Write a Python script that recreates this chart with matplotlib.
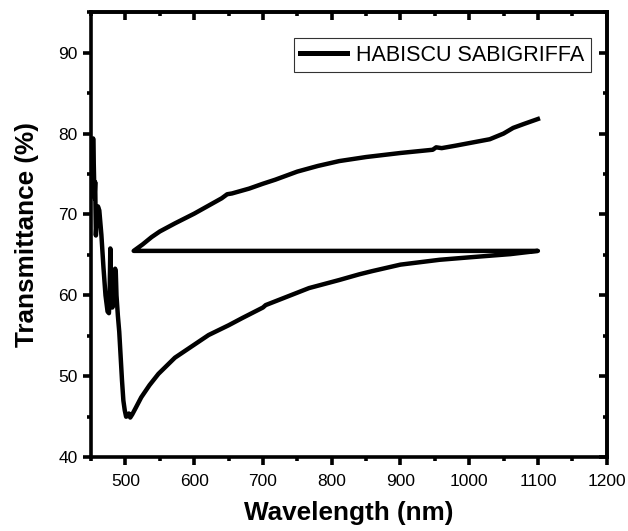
import matplotlib.pyplot as plt
from matplotlib.ticker import MultipleLocator

plt.rcParams["font.family"] = ["Liberation Sans", "DejaVu Sans"]

# lower branch, 450 -> 1100 nm
lower_wl = [450, 451, 452, 453, 454, 455, 456, 457, 458, 460, 462, 465, 468, 471, 474, 476,
            477, 478, 479, 481, 483, 485, 486, 487, 489, 491, 493, 495, 497, 499, 501, 503,
            505, 507, 510, 515, 523, 535, 548, 572, 600, 621, 650, 670, 700, 704, 740, 767,
            811, 840, 859, 900, 957, 1000, 1030, 1060, 1100]
lower_t = [75.0, 79.0, 73.0, 79.4, 76.0, 72.0, 74.0, 67.4, 69.0, 71.0, 70.5, 67.5, 63.5, 60.0,
           58.0, 57.8, 60.0, 65.8, 62.0, 58.5, 59.5, 63.3, 62.8, 60.0, 57.5, 55.5, 52.5, 49.5,
           47.0, 45.8, 45.0, 45.1, 45.4, 44.9, 45.3, 46.1, 47.4, 48.9, 50.3, 52.3, 53.9, 55.1,
           56.3, 57.2, 58.5, 58.8, 60.0, 60.9, 61.9, 62.6, 63.0, 63.8, 64.4, 64.7, 64.9, 65.1,
           65.5]

# upper branch, 512 -> 1100 nm
upper_wl = [512, 525, 538, 550, 572, 600, 640, 648, 655, 680, 700, 718, 750, 780, 811, 850,
            900, 947, 952, 960, 980, 1005, 1030, 1050, 1064, 1080, 1100]
upper_t = [65.5, 66.3, 67.2, 67.9, 68.9, 70.1, 72.0, 72.5, 72.6, 73.2, 73.8, 74.3, 75.3, 76.0,
           76.6, 77.1, 77.6, 78.0, 78.3, 78.2, 78.5, 78.9, 79.3, 80.0, 80.7, 81.2, 81.8]

wl = lower_wl + upper_wl
trans = lower_t + upper_t

fig = plt.figure(figsize=(6.28, 5.31), dpi=100)
ax = fig.add_axes([0.145, 0.139, 0.821, 0.838])

ax.plot(wl, trans, color="black", lw=3.2, solid_joinstyle="round",
        label="HABISCU SABIGRIFFA")

ax.set_xlim(450, 1200)
ax.set_ylim(40, 95)
ax.xaxis.set_major_locator(MultipleLocator(100))
ax.xaxis.set_minor_locator(MultipleLocator(50))
ax.yaxis.set_major_locator(MultipleLocator(10))
ax.yaxis.set_minor_locator(MultipleLocator(5))
ax.set_yticks(range(40, 91, 10))

for s in ax.spines.values():
    s.set_linewidth(2.6)
ax.tick_params(which="major", direction="out", length=6, width=2.6, labelsize=12.5)
ax.tick_params(axis="x", which="major", pad=6)
ax.tick_params(which="minor", direction="out", length=3, width=2.6)

# mirrored inward ticks on top and right
top = ax.secondary_xaxis("top")
top.xaxis.set_major_locator(MultipleLocator(100))
top.xaxis.set_minor_locator(MultipleLocator(50))
top.tick_params(which="major", direction="in", length=6, width=2.6, labeltop=False)
top.tick_params(which="minor", direction="in", length=3, width=2.6)
right = ax.secondary_yaxis("right")
right.yaxis.set_major_locator(MultipleLocator(10))
right.yaxis.set_minor_locator(MultipleLocator(5))
right.tick_params(which="major", direction="in", length=6, width=2.6, labelright=False)
right.tick_params(which="minor", direction="in", length=3, width=2.6)
for a in (top, right):
    for s in a.spines.values():
        s.set_linewidth(2.6)

ax.set_xlabel("Wavelength (nm)", fontsize=18.8, fontweight="bold", labelpad=9)
ax.set_ylabel("Transmittance (%)", fontsize=18.8, fontweight="bold", labelpad=14)

leg = ax.legend(loc="upper right", fontsize=15.5, frameon=True, fancybox=False,
                edgecolor="black", handlelength=2.2, handletextpad=0.4,
                borderpad=0.3, borderaxespad=0, bbox_to_anchor=(0.969, 0.941))
leg.get_frame().set_linewidth(0.8)
for line in leg.get_lines():
    line.set_linewidth(3.6)

fig.savefig("out.png", dpi=100)
